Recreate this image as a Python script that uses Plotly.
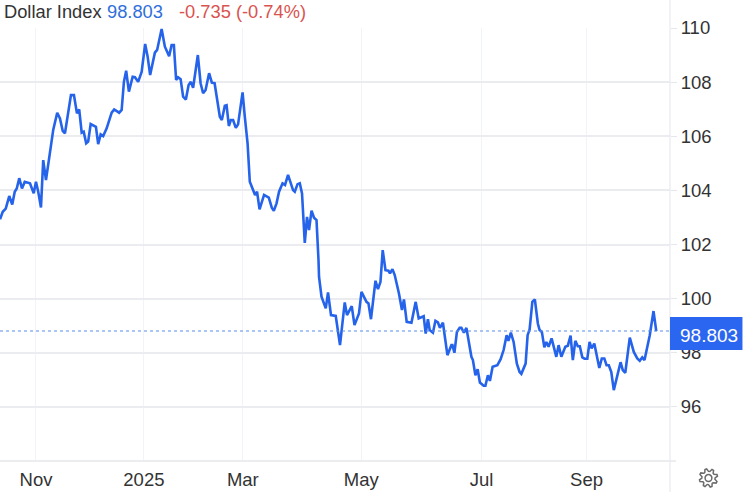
import numpy as np
import plotly.graph_objects as go

sessions = [0,1.1,2.3,3.7,4.9,5.9,6.7,7.7,8.8,9.9,12,13.5,14.4,15.3,16.4,17.3,18.4,20,21.3,22.9,24,25.1,26,28.4,29.6,30.8,31.7,32.7,33.5,34.5,35.3,36.3,38.4,39.3,40.3,41.3,42.7,44.7,45.7,47.7,
48.7,49.6,50.5,51.6,53.1,54,55.3,56.7,58.1,59.1,60.1,62,62.9,64.7,66,67.7,68.7,69.6,70.5,71.3,72.3,73.3,74.4,75.5,76.4,77.3,79.2,80.3,81.3,82.3,83.7,84.8,85.9,88,88.8,90,90.7,91.6,
92.4,93.3,94.4,95.3,97.1,98,99.1,100,101.6,102.1,102.9,103.9,105.7,107.6,108.8,109.6,110.7,111.7,113.1,114.1,115.3,117.3,118,119.1,120,120.9,122,122.9,123.7,124.7,125.7,126.7,127.5,
127.7,128.7,130.4,131.3,132.5,134.4,136.1,138,138.9,140.8,141.9,143.7,144.7,146.7,147.5,148.5,150.3,151.3,152.3,153.2,154.3,155.5,156.1,157.1,158,159.7,160.9,161.7,162.8,164.7,166.4,167.6,
169.6,170.4,171.3,172,173.3,174.3,175.3,176.1,177.3,179.1,180.7,181.1,181.9,182.9,184,184.7,185.7,186.7,188.7,189.3,190.3,191.2,192.1,193.6,194.3,195.3,196.1,197.2,199.1,200.4,201.6,202.8,203.5,204.5,205.6,206.9,208,208.7,210.4,211.2,212,213.1,214.1,215.3,216,
216.9,217.9,218.7,219.6,220.8,222.7,223.6,224.7,226.3,227.3,228.4,229.3,230.3,231.3,232.1,233.1,234,235.1,236,236.8,237.9,239.9,240.9,241.9,242.8,243.7,244.7,245.7,247.3,248.4,249.3,250.3,252.1,253.7,255.1,256.1,257.1,258,260.1,261.6,262.7]

index_values = [102.93,103.21,103.33,103.79,103.48,103.95,104.07,104.45,104.07,104.32,104.26,103.89,104.32,103.95,103.37,105.12,104.38,105.37,106.23,106.87,106.66,106.20,106.11,107.52,107.52,106.85,106.99,106.13,106.17,105.74,105.80,106.45,106.35,105.71,106.07,106.01,106.29,106.87,106.99,106.87,
106.97,108.01,108.42,107.65,108.20,108.18,108.01,108.38,109.41,108.94,108.26,109.09,109.19,109.96,109.31,108.96,109.37,109.37,108.08,108.18,108.11,107.46,107.36,107.89,108.01,107.79,109.00,107.96,107.59,107.71,108.33,107.98,107.96,106.72,106.60,107.13,107.15,106.38,
106.60,106.60,106.31,106.44,107.62,106.72,105.74,104.32,103.89,103.83,103.95,103.30,103.83,103.73,103.36,103.25,103.52,103.95,104.26,104.20,104.57,104.01,103.95,104.23,104.26,103.89,102.06,103.02,102.53,103.25,102.99,102.90,101.42,
100.81,100.07,99.64,100.23,99.39,99.36,98.28,99.86,99.39,99.72,99.02,99.45,100.25,99.88,99.82,99.24,100.66,100.35,100.62,101.79,101.05,101.03,100.93,101.09,100.87,100.19,99.58,99.97,99.14,99.11,99.88,99.27,
99.35,98.71,99.24,98.84,98.74,99.18,99.12,98.92,99.11,97.91,98.28,98.28,98.00,98.77,98.92,98.92,98.74,98.92,97.85,97.73,97.17,97.39,96.90,96.78,96.78,97.17,96.96,97.48,97.54,97.76,98.10,98.65,98.44,98.74,98.40,97.60,97.29,97.22,97.60,98.65,98.86,99.88,99.97,99.08,98.84,
98.77,98.20,98.40,98.22,98.53,97.85,98.28,97.85,98.22,98.26,98.63,97.73,98.44,98.24,98.24,97.83,97.78,97.78,98.40,98.16,98.34,97.44,97.79,97.79,97.54,97.54,97.29,96.62,97.23,97.65,97.36,97.26,98.56,98.03,97.79,97.70,97.83,97.73,98.65,99.54,98.80]

assert len(sessions) == len(index_values)

x_tick_positions = [14.4, 57.6, 97.2, 144.6, 192.8, 234.8]
x_tick_labels = ["Nov", "2025", "Mar", "May", "Jul", "Sep"]
y_tick_values = [96, 98, 100, 102, 104, 106, 108, 110]
last_price = 98.803

W, H = 743, 492
L, R, T, B = 0, 72.5, 28, 31
FONT = "Liberation Sans, Arial, sans-serif"
BLUE = "#2563eb"
px = lambda v: v / (W - L - R)           # width fraction of plot
py = lambda v: v / (H - T - B)           # height fraction of plot

fig = go.Figure()
fig.add_trace(go.Scatter(x=sessions, y=index_values, mode="lines",
                         line=dict(color=BLUE, width=2.6), hoverinfo="skip", showlegend=False))

fig.update_layout(
    width=W, height=H, margin=dict(l=L, r=R, t=T, b=B),
    paper_bgcolor="white", plot_bgcolor="white",
    font=dict(family=FONT, color="#333333", size=16),
    showlegend=False,
    xaxis=dict(range=[0, 268.2], tickmode="array", tickvals=x_tick_positions, ticktext=x_tick_labels,
               showgrid=True, gridcolor="#f1f3f8", gridwidth=1.2, zeroline=False, showline=False,
               ticks="outside", ticklen=2, tickcolor="rgba(0,0,0,0)",
               tickfont=dict(size=18.5, color="#333333")),
    yaxis=dict(range=[94, 110], side="right", tickmode="array", tickvals=y_tick_values,
               showgrid=True, gridcolor="#ebecef", gridwidth=1.5, zeroline=False, showline=False,
               ticks="outside", ticklen=6, tickcolor="#e6e7ea", tickwidth=1,
               tickfont=dict(size=18.5, color="#333333")),
)

shapes = [
    # bottom axis line
    dict(type="line", xref="paper", yref="paper", x0=0, x1=1 + px(6), y0=0, y1=0,
         line=dict(color="#e6e7ea", width=1.5)),
    # right axis line
    dict(type="line", xref="paper", yref="paper", x0=1, x1=1, y0=-py(B), y1=1 + py(T),
         line=dict(color="#e8eaee", width=1.2)),
    # last-price line
    dict(type="line", xref="paper", yref="y", x0=0, x1=1, y0=last_price, y1=last_price,
         line=dict(color="#5b8dea", width=1.2, dash="dot")),
    # last-price badge
    dict(type="rect", xref="paper", yref="paper", x0=1, x1=1 + px(R), y0=py(461 - 350), y1=py(461 - 317),
         fillcolor="#2b66f0", line=dict(width=0), layer="above"),
]

# settings icon, outlined cog
gx, gy = 1 + px(38.5), -py(17)
teeth = 8
ang = np.linspace(0, 2 * np.pi, teeth * 4, endpoint=False) + np.pi / 8 - np.pi / 16
rad = np.tile([9.2, 9.2, 6.6, 6.6], teeth)
cog = "M" + " L".join(f"{r*np.cos(a):.2f},{r*np.sin(a):.2f}" for r, a in zip(rad, ang)) + " Z"
shapes.append(dict(type="path", path=cog, xref="paper", yref="paper", xanchor=gx, yanchor=gy,
                   xsizemode="pixel", ysizemode="pixel", line=dict(color="#6b6b6b", width=1.5)))
shapes.append(dict(type="circle", xref="paper", yref="paper", xanchor=gx, yanchor=gy,
                   xsizemode="pixel", ysizemode="pixel", x0=-3.4, x1=3.4, y0=-3.4, y1=3.4,
                   line=dict(color="#6b6b6b", width=1.5)))
fig.update_layout(shapes=shapes)

def note(text, x_px, color, size=18.3):
    return dict(text=text, xref="paper", yref="paper", x=px(x_px), y=1 + py(17),
                xanchor="left", yanchor="middle", showarrow=False,
                font=dict(size=size, color=color, family=FONT))

fig.update_layout(annotations=[
    note("Dollar Index", 2, "#333333"),
    note("98.803", 105, "#2f6fdb"),
    note("-0.735 (-0.74%)", 177, "#d9534f"),
    dict(text="98.803", xref="paper", yref="paper", x=1 + px(R / 2 + 3), y=py(461 - 335), xanchor="center",
         yanchor="middle", showarrow=False, font=dict(size=19, color="white", family=FONT)),
])

fig.write_html("out.html", config=dict(displayModeBar=False),
               post_script="document.body.style.margin='0';")
